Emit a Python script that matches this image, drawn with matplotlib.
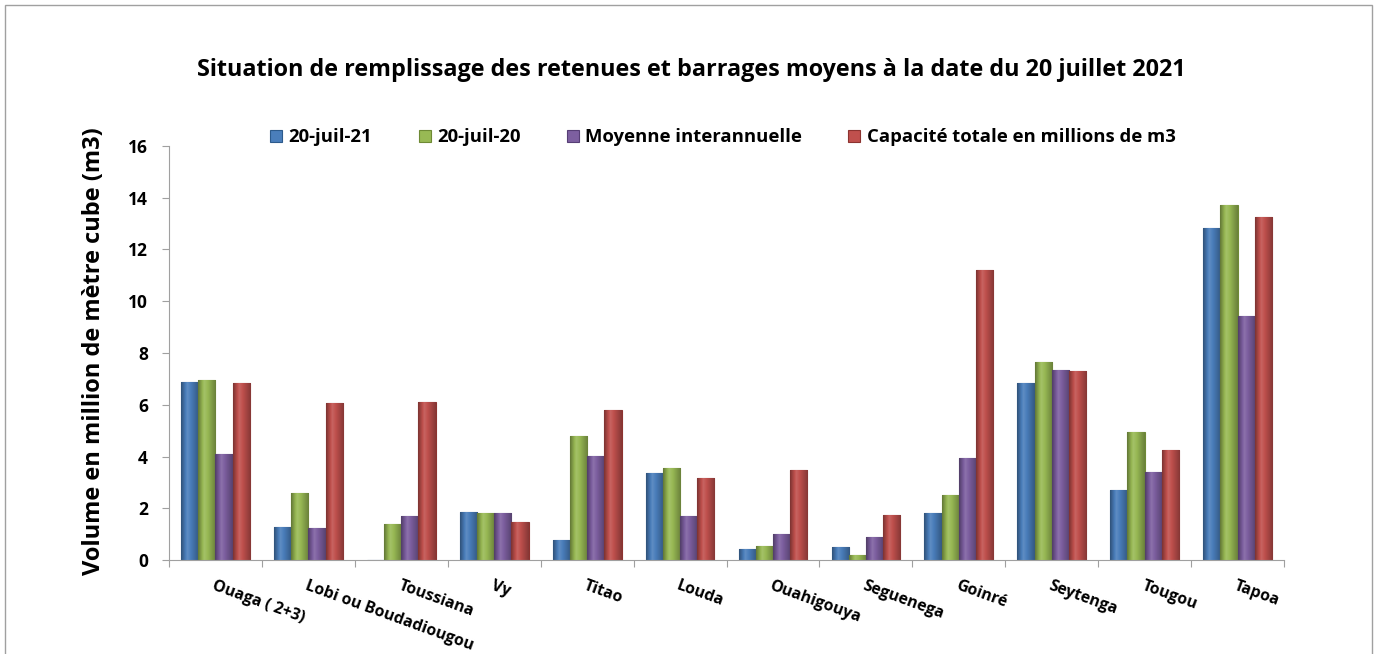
import numpy as np
import matplotlib.pyplot as plt
from matplotlib.colors import to_rgb
from matplotlib.patches import Rectangle

plt.rcParams['font.family'] = ['Open Sans', 'DejaVu Sans']
plt.rcParams['font.weight'] = 'bold'
plt.rcParams['axes.labelweight'] = 'bold'

# données
barrages = ['Ouaga ( 2+3)', 'Lobi ou Boudadiougou', 'Toussiana', 'Vy', 'Titao', 'Louda',
            'Ouahigouya', 'Seguenega', 'Goinré', 'Seytenga', 'Tougou', 'Tapoa']
juil_21 = [6.88, 1.27, 0.0, 1.85, 0.78, 3.35, 0.42, 0.49, 1.80, 6.83, 2.70, 12.82]
juil_20 = [6.95, 2.60, 1.40, 1.80, 4.78, 3.57, 0.55, 0.20, 2.50, 7.64, 4.95, 13.73]
moyenne = [4.08, 1.23, 1.70, 1.80, 4.02, 1.70, 1.00, 0.88, 3.93, 7.34, 3.39, 9.42]
capacite = [6.85, 6.05, 6.10, 1.45, 5.80, 3.17, 3.49, 1.74, 11.22, 7.30, 4.24, 13.25]

series = [
    ('20-juil-21', juil_21, '#4A7EBB', '#2C5A8C'),
    ('20-juil-20', juil_20, '#98B954', '#6E8A35'),
    ('Moyenne interannuelle', moyenne, '#7D5FA0', '#563E75'),
    ('Capacité totale en millions de m3', capacite, '#C0504D', '#8C3330'),
]


def degrade(couleur, n=40):
    # ombrage horizontal : bords sombres, reflet clair à gauche du centre
    c = np.array(to_rgb(couleur))
    t = np.linspace(0, 1, n)
    f = np.interp(t, [0, 0.35, 1], [-0.35, 0.12, -0.3])
    rgb = np.where(f[:, None] > 0, c + (1 - c) * f[:, None], c * (1 + f[:, None]))
    return rgb[None, :, :]


fig = plt.figure(figsize=(13.77, 6.54), dpi=100)
ax = fig.add_axes([0.1227, 0.1437, 0.8098, 0.6331])

x = np.arange(len(barrages))
w = 0.185
for i, (nom, vals, col, bord) in enumerate(series):
    barres = ax.bar(x + (i - 1.5) * w, vals, w, color=col, edgecolor=bord, linewidth=0.8, label=nom)
    img = degrade(col)
    for b in barres:
        if b.get_height() <= 0:
            continue
        im = ax.imshow(img, extent=[b.get_x(), b.get_x() + b.get_width(), 0, b.get_height()],
                       aspect='auto', interpolation='bilinear', zorder=b.get_zorder())
        im.set_clip_path(b)

ax.set_xlim(-0.5, len(barrages) - 0.5)
ax.set_ylim(0, 16)
ax.set_yticks(range(0, 17, 2))
ax.tick_params(axis='y', labelsize=12.5, length=5, color='#A0A0A0', pad=10)

# graduations entre les groupes, étiquettes au centre
ax.set_xticks(np.arange(-0.5, len(barrages), 1))
ax.set_xticklabels([])
ax.tick_params(axis='x', which='major', length=5, color='#A0A0A0')
ax.set_xticks(x, minor=True)
ax.set_xticklabels(barrages, minor=True, rotation=-20, ha='left', va='top',
                   rotation_mode='anchor', fontsize=11.4)
ax.tick_params(axis='x', which='minor', length=0, pad=13)

for s in ['top', 'right']:
    ax.spines[s].set_visible(False)
for s in ['left', 'bottom']:
    ax.spines[s].set_color('#A0A0A0')

ax.set_ylabel('Volume en million de mètre cube (m3)', fontsize=17, va='center')
ax.yaxis.set_label_coords(-0.067, 0.505)

fig.text(0.502, 0.893, 'Situation de remplissage des retenues et barrages moyens à la date du 20 juillet 2021',
         ha='center', va='center', fontsize=16.8, fontweight='bold')

fig.legend(loc='center', bbox_to_anchor=(0.525, 0.79), ncol=4, frameon=False,
           fontsize=13.3, handlelength=0.65, handleheight=0.65, columnspacing=2.5, handletextpad=0.35)

fig.patches.append(Rectangle((5 / 1377, -0.1), 1367 / 1377, 1.1 - 5 / 654, transform=fig.transFigure,
                             fill=False, edgecolor='#A0A0A0', linewidth=1))

fig.savefig('out.png', dpi=100)
